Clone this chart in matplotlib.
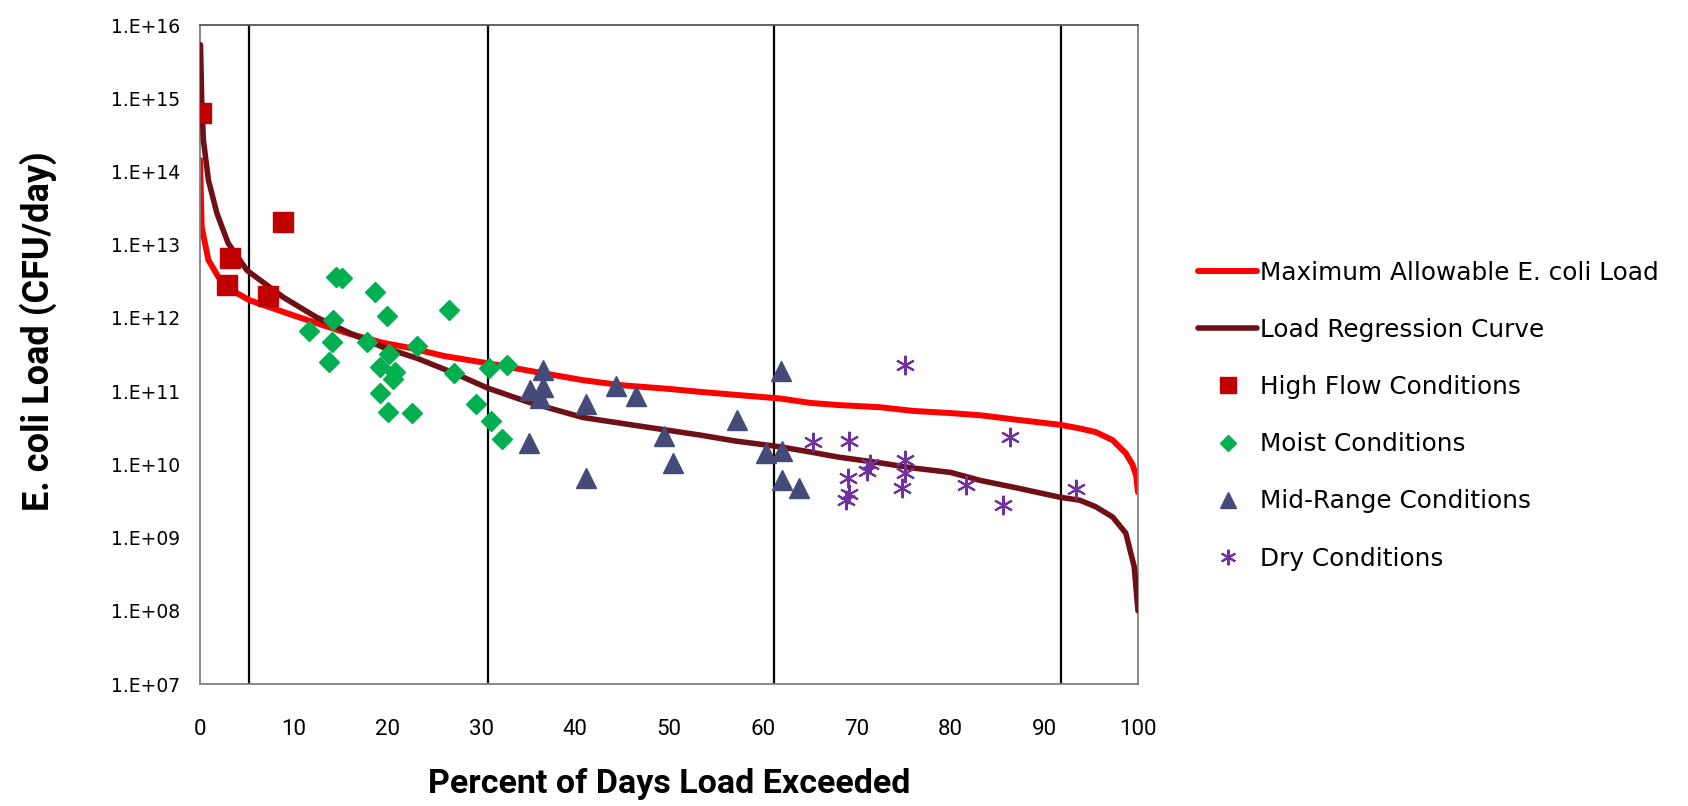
import numpy as np
import matplotlib
matplotlib.use('Agg')
import matplotlib.pyplot as plt
from matplotlib.ticker import FixedLocator, FuncFormatter

# flow-duration percentiles (x) and log10 load (y)
max_x = [0, 0.18, 0.9, 1.95, 3.9, 5.3, 8.9, 12.4, 16, 19.5, 22.4, 26, 30.7, 35, 40.8,
         45, 50, 53.3, 57, 61.8, 65, 68, 72.5, 76, 80, 83.2, 87, 91.7, 93.8, 95.5,
         97.3, 98.7, 99.4, 99.8, 100]
max_logy = [14.16, 13.24, 12.79, 12.56, 12.34, 12.24, 12.08, 11.93, 11.78, 11.66, 11.59,
            11.48, 11.38, 11.28, 11.15, 11.08, 11.03, 10.99, 10.95, 10.90, 10.84, 10.81,
            10.78, 10.73, 10.70, 10.67, 10.61, 10.54, 10.49, 10.44, 10.33, 10.15, 10.0,
            9.85, 9.62]

reg_x = [0.05, 0.18, 0.36, 0.9, 1.8, 3.0, 5.0, 8.9, 12.4, 16, 19.5, 23.1, 27, 30.7, 35,
         40.8, 47, 53.3, 57, 61.8, 65, 68, 72.5, 76, 80, 83.2, 87, 91.7, 93.8, 95.5, 97.3,
         98.7, 99.6, 100]
reg_logy = [15.73, 14.98, 14.43, 13.88, 13.43, 13.02, 12.65, 12.28, 12.01, 11.79, 11.60,
            11.45, 11.25, 11.04, 10.85, 10.64, 10.52, 10.40, 10.32, 10.24, 10.17, 10.10,
            10.02, 9.95, 9.89, 9.78, 9.68, 9.55, 9.51, 9.42, 9.28, 9.06, 8.6, 8.0]

high_x = [0.1, 2.85, 3.2, 7.3, 8.9]
high_logy = [14.80, 12.45, 12.82, 12.30, 13.31]

moist_x = [14.5, 15.1, 18.7, 19.9, 26.5, 14.2, 11.6, 14.1, 13.8, 17.8, 20.2, 23.1,
           19.2, 20.8, 20.6, 19.2, 20.0, 22.6, 27.1, 30.8, 32.7, 29.4, 31.0, 32.2]
moist_logy = [12.56, 12.54, 12.36, 12.02, 12.11, 11.97, 11.82, 11.67, 11.40, 11.67, 11.51,
              11.61, 11.33, 11.26, 11.17, 10.98, 10.71, 10.70, 11.25, 11.31, 11.36, 10.82,
              10.59, 10.35]

mid_x = [36.6, 35.2, 36.6, 36.2, 44.4, 46.5, 41.2, 35.1, 41.2, 49.5, 50.4, 57.2, 61.9,
         62.0, 60.3, 62.1, 63.9]
mid_logy = [11.29, 11.02, 11.05, 10.90, 11.07, 10.93, 10.82, 10.29, 9.82, 10.39, 10.02,
            10.61, 11.27, 10.18, 10.15, 9.78, 9.67]

dry_x = [75.2, 65.3, 69.2, 71.4, 71.1, 75.2, 69.1, 69.2, 68.9, 75.2, 74.8, 86.4, 81.7,
         85.6, 93.4]
dry_logy = [11.36, 10.31, 10.32, 10.0, 9.91, 10.06, 9.81, 9.60, 9.51, 9.88, 9.67, 10.38,
            9.72, 9.44, 9.66]

zone_bounds = [5.2, 30.7, 61.2, 91.8]

narrow = ['Roboto', 'DejaVu Sans']

fig = plt.figure(figsize=(16.88, 8.06), dpi=100)
ax = fig.add_axes([200 / 1688, 1 - 684 / 806, 938 / 1688, 659 / 806])

for xb in zone_bounds:
    ax.axvline(xb, color='black', lw=1.6, zorder=1)

ax.plot(max_x, 10 ** np.array(max_logy), color='#FF0000', lw=4.3, zorder=2,
        label='Maximum Allowable E. coli Load', solid_capstyle='round')
ax.plot(reg_x, 10 ** np.array(reg_logy), color='#6E1016', lw=4.0, zorder=3,
        label='Load Regression Curve', solid_capstyle='round')

ax.plot(high_x, 10 ** np.array(high_logy), ls='none', marker='s', ms=14,
        color='#C00000', zorder=4, label='High Flow Conditions')
ax.plot(moist_x, 10 ** np.array(moist_logy), ls='none', marker='D', ms=10,
        color='#00B050', zorder=4, label='Moist Conditions')
ax.plot(mid_x, 10 ** np.array(mid_logy), ls='none', marker='^', ms=14,
        color='#454A78', zorder=4, label='Mid-Range Conditions')
ax.plot(dry_x, 10 ** np.array(dry_logy), ls='none', marker=(6, 2, 0), ms=14, mew=1.5,
        color='#7030A0', zorder=4, label='Dry Conditions')

ax.set_yscale('log')
ax.set_ylim(1e7, 1e16)
ax.set_xlim(0, 100)
ax.yaxis.set_major_locator(FixedLocator([10.0 ** k for k in range(7, 17)]))
ax.yaxis.set_minor_locator(FixedLocator([]))
ax.yaxis.set_major_formatter(FuncFormatter(lambda v, p: '1.E+%02d' % round(np.log10(v))))
ax.set_xticks(range(0, 101, 10))

ax.tick_params(axis='y', length=0, pad=14, labelsize=13.5)
ax.tick_params(axis='x', length=0, pad=25, labelsize=16)
for lab in ax.get_xticklabels():
    lab.set_family(narrow)

for s in ax.spines.values():
    s.set_color('#808080')
    s.set_linewidth(1.3)
ax.spines['top'].set_color('#555555')

ax.set_xlabel('Percent of Days Load Exceeded', family=narrow, fontsize=24.5,
              fontweight='bold')
ax.set_ylabel('E. coli Load (CFU/day)', family=narrow, fontsize=26, fontweight='bold')
ax.xaxis.set_label_coords(0.5, -0.152)
ax.xaxis.label.set_va('center')
ax.yaxis.set_label_coords(-0.173, 0.536)
ax.yaxis.label.set_va('center')

leg = fig.legend(loc='upper left', bbox_to_anchor=(1188 / 1688, 1 - 251 / 806),
                 frameon=False, fontsize=17.8, handlelength=2.4, handletextpad=0.1,
                 labelspacing=1.34, borderaxespad=0, markerscale=0.8)

fig.savefig('out.png', dpi=100)
